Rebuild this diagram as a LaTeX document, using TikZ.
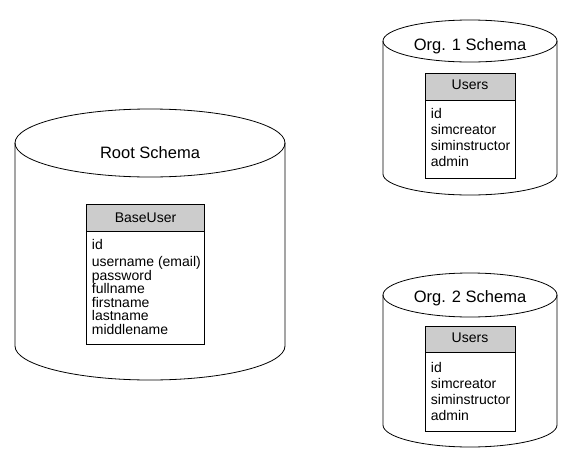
\documentclass[tikz,border=0pt]{standalone}
\usepackage{fontspec}
\setmainfont{Liberation Sans}

% schema cylinder: centre x, top y, bottom y, x radius, y radius
\newcommand{\schemadb}[5]{%
  \draw[fill=white] ({#1-#4},#2) -- ({#1-#4},#3)
    arc[start angle=180, end angle=360, x radius=#4pt, y radius=#5pt] -- ({#1+#4},#2);
  \draw (#1,#2) ellipse[x radius=#4pt, y radius=#5pt];
}

\begin{document}
\begin{tikzpicture}[x=1pt, y=-1pt, line width=0.8pt,
    schemaname/.style={anchor=base, inner sep=0pt, font=\fontsize{16.5}{18}\selectfont},
    tablehead/.style={anchor=base, inner sep=0pt, font=\fontsize{14}{16}\selectfont},
    tablefield/.style={anchor=base west, inner sep=0pt, font=\fontsize{14}{16}\selectfont}]
    \useasboundingbox (0,0) rectangle (574,472);

    % Root schema
    \schemadb{150}{143}{346}{135}{34}
    \node[schemaname] (rootname) at (150,158) {Root Schema};
    \draw[fill=white] (86.5,204) rectangle (204.5,344);
    \draw[fill=gray!40] (86.5,204) rectangle (204.5,231.5);
    \node[tablehead] (baseuser) at (145.5,222.5) {BaseUser};
    \node[tablefield] (bu1) at (91.5,249) {id};
    \node[tablefield] (bu2) at (91.5,266) {username (email)};
    \node[tablefield] (bu3) at (91.5,280) {password};
    \node[tablefield] (bu4) at (91.5,293.5) {fullname};
    \node[tablefield] (bu5) at (91.5,307) {firstname};
    \node[tablefield] (bu6) at (91.5,320.5) {lastname};
    \node[tablefield] (bu7) at (91.5,334) {middlename};

    % Org. 1 schema
    \schemadb{470}{41}{174}{87}{21}
    \node[schemaname] (orgonename) at (470,50) {Org. 1 Schema};
    \draw[fill=white] (425,73) rectangle (515,178);
    \draw[fill=gray!40] (425,73) rectangle (515,100);
    \node[tablehead] (usersone) at (470,89.5) {Users};
    \node[tablefield] (uo1) at (430.5,118.5) {id};
    \node[tablefield] (uo2) at (430.5,134.5) {simcreator};
    \node[tablefield] (uo3) at (430.5,150.5) {siminstructor};
    \node[tablefield] (uo4) at (430.5,166.5) {admin};

    % Org. 2 schema
    \schemadb{470}{295}{425}{87}{22}
    \node[schemaname] (orgtwoname) at (470,302) {Org. 2 Schema};
    \draw[fill=white] (425,326) rectangle (515,431);
    \draw[fill=gray!40] (425,326) rectangle (515,352);
    \node[tablehead] (userstwo) at (470,342.5) {Users};
    \node[tablefield] (ut1) at (430.5,372) {id};
    \node[tablefield] (ut2) at (430.5,388) {simcreator};
    \node[tablefield] (ut3) at (430.5,404) {siminstructor};
    \node[tablefield] (ut4) at (430.5,420) {admin};
\end{tikzpicture}
\end{document}
